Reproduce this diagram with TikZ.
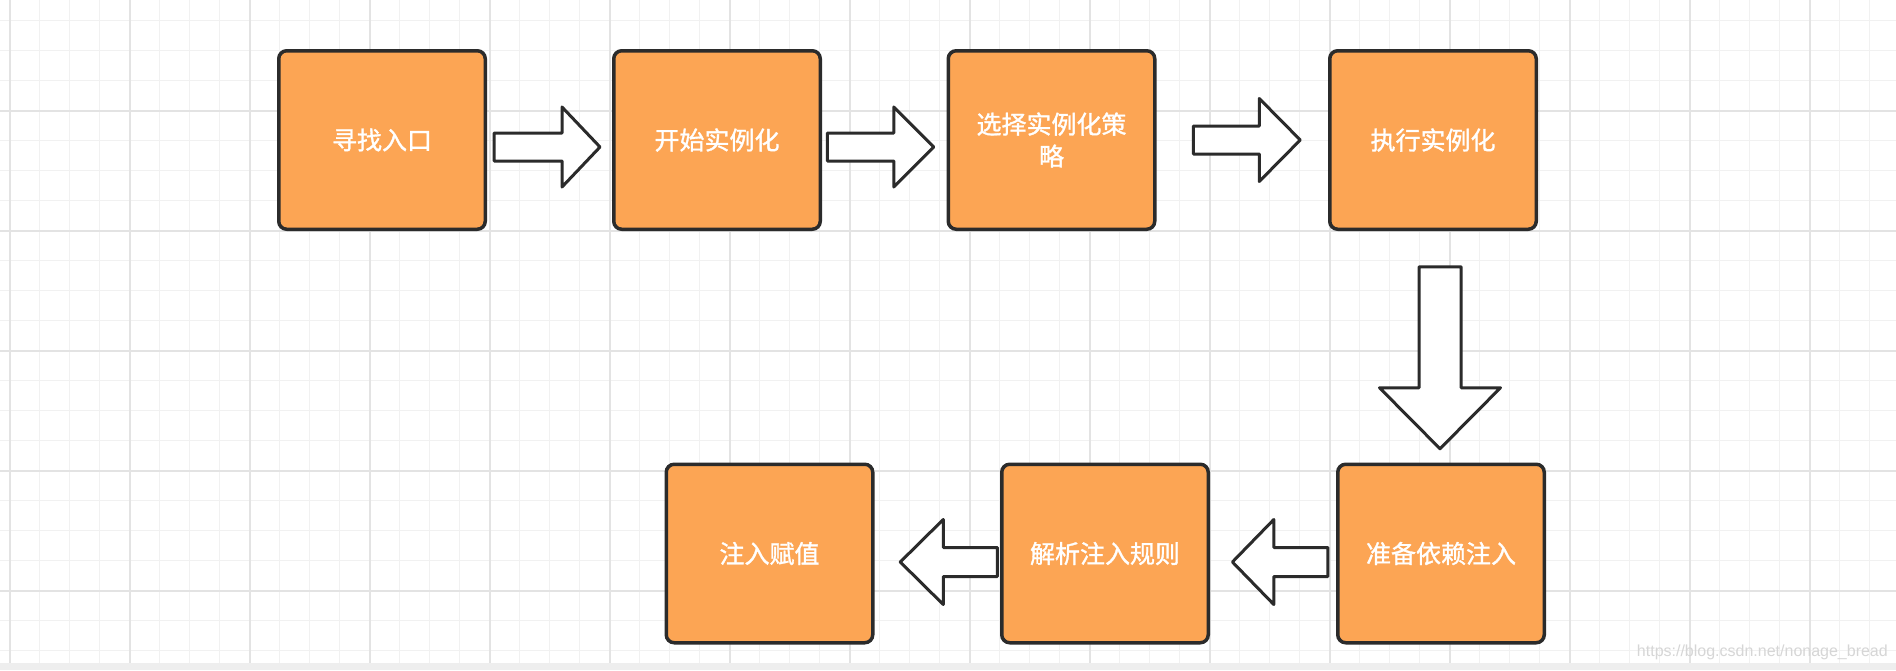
\documentclass[tikz,border=0pt]{standalone}
\usepackage{fontspec}
\setmainfont{Liberation Sans}
\newfontfamily\cjk[FakeBold=1.3]{Noto Sans CJK SC}
\usetikzlibrary{calc}
\definecolor{boxfill}{HTML}{FCA554}
\definecolor{ink}{HTML}{2B2B2B}
\definecolor{gminor}{HTML}{F1F1F1}
\definecolor{gmajor}{HTML}{E3E3E3}
\definecolor{band}{HTML}{EEEEEE}
\definecolor{wmark}{HTML}{D6D6D6}
\newcommand\drawblockarrow[6]{%
  \draw[blockarrow, shift={#1}, rotate=#2] (0,0) -- (-#4,-#6) -- (-#4,-#5) -- (-#3,-#5) -- (-#3,#5) -- (-#4,#5) -- (-#4,#6) -- cycle;}
\begin{document}
\begin{tikzpicture}[x=1pt,y=-1pt,
  stepbox/.style={draw=ink, fill=boxfill, line width=3.5pt, rounded corners=8pt,
    minimum width=206.5pt, minimum height=178.5pt, inner sep=0pt, text=white,
    font=\cjk\fontsize{25}{32}\selectfont, align=center},
  blockarrow/.style={draw=ink, fill=white, line width=3pt, line join=round},
  minorline/.style={draw=gminor, line width=1.5pt},
  majorline/.style={draw=gmajor, line width=2pt}]
\useasboundingbox (0,0) rectangle (1896,670);
\fill[white] (0,0) rectangle (1896,670);
% grid
\foreach \x in {9.5,39.5,...,1896} \draw[minorline] (\x,0) -- (\x,663);
\foreach \y in {20.7,50.7,...,663} \draw[minorline] (0,\y) -- (1896,\y);
\foreach \x in {9.5,129.5,...,1896} \draw[majorline] (\x,0) -- (\x,663);
\foreach \y in {110.7,230.7,...,663} \draw[majorline] (0,\y) -- (1896,\y);
\fill[band] (0,663) rectangle (1896,670);
% boxes
\node[stepbox] (b1) at (382,140) {寻找入口};
\node[stepbox] (b2) at (717,140) {开始实例化};
\node[stepbox, text width=160pt] (b3) at (1051.5,140) {选择实例化策\\略};
\node[stepbox] (b4) at (1433,140) {执行实例化};
\node[stepbox] (b5) at (1441,553.5) {准备依赖注入};
\node[stepbox] (b6) at (1105,553.5) {解析注入规则};
\node[stepbox] (b7) at (769.5,553.5) {注入赋值};
% block arrows
\drawblockarrow{($(b2.west)+(-12,7)$)}{0}{106}{38}{14}{40}
\drawblockarrow{($(b3.west)+(-12.75,7)$)}{0}{106.5}{40}{14}{40}
\drawblockarrow{($(b4.west)+(-27.75,0)$)}{0}{107}{41}{14}{41.5}
\drawblockarrow{($(b5.north)+(-1,-13.75)$)}{-90}{182}{61}{21}{60.5}
\drawblockarrow{($(b6.east)+(22.4,8.5)$)}{180}{95.4}{41.4}{14.5}{42.5}
\drawblockarrow{($(b7.east)+(25.75,8.5)$)}{180}{97}{43}{14.5}{42.5}
% watermark
\node[text=wmark, font=\fontsize{16}{16}\selectfont, anchor=east, inner sep=0pt] (wm) at (1888,652) {https://blog.csdn.net/nonage\_bread};
\end{tikzpicture}
\end{document}
